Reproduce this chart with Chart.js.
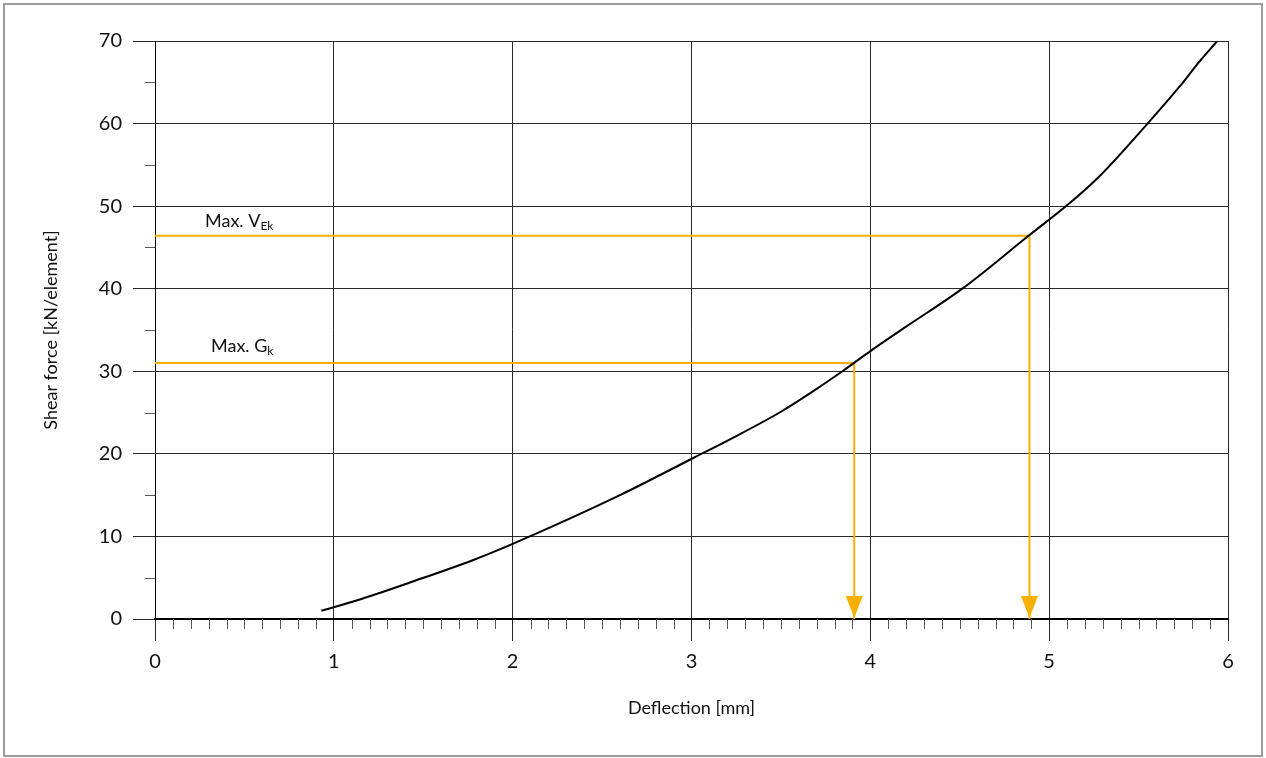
<!DOCTYPE html>
<html>
<head>
<meta charset="utf-8">
<script src="https://cdn.jsdelivr.net/npm/chart.js@4/dist/chart.umd.min.js"></script>
<style>
    html, body { margin: 0; padding: 0; background: #fff; }
    #wrap { position: relative; width: 1266px; height: 758px; }
</style>
</head>
<body>
<div id="wrap"><canvas id="shearChart"></canvas></div>
<script>
// ── Data ──────────────────────────────────────────────────────────────────────
const deflection = [0.93, 1.15, 1.45, 1.78, 2.0, 2.6, 3.01, 3.21, 3.5, 3.66, 3.85, 4.01, 4.2, 4.52, 4.89, 5.1, 5.28, 5.55, 5.73, 5.84, 5.94];
const shearForce = [1.0, 2.4, 4.6, 7.15, 9.1, 15.0, 19.5, 21.7, 25.1, 27.3, 30.1, 32.6, 35.4, 40.1, 46.5, 50.1, 53.6, 60.0, 64.5, 67.5, 70.0];

// reference levels: label, subscript, force level, deflection where it meets the curve
const refLabels = ['Max. V', 'Max. G'];
const refSubs = ['Ek', 'k'];
const refForce = [46.4, 31.0];
const refDeflection = [4.89, 3.91];

const xTicks = [0, 1, 2, 3, 4, 5, 6];
const yTicks = [0, 10, 20, 30, 40, 50, 60, 70];

const FONT = "Lato, 'Liberation Sans', sans-serif";
const ORANGE = '#F7B000';

// ── Helpers ───────────────────────────────────────────────────────────────────
const curvePoints = deflection.map((x, i) => ({ x: x, y: shearForce[i] }));

const refDatasets = refForce.map((f, i) => ({
    label: refLabels[i] + refSubs[i],
    data: [{ x: 0, y: f }, { x: refDeflection[i], y: f }, { x: refDeflection[i], y: 0 }],
    showLine: true,
    borderColor: ORANGE,
    borderWidth: 2,
    pointRadius: 0,
    tension: 0
}));

// frame, minor ticks, arrow heads and reference labels
const extrasPlugin = {
    id: 'extras',
    beforeDraw(chart) {
        const ctx = chart.ctx;
        ctx.save();
        ctx.fillStyle = '#fff';
        ctx.fillRect(0, 0, chart.width, chart.height);
        ctx.strokeStyle = '#9c9c9c';
        ctx.lineWidth = 2;
        ctx.strokeRect(4, 4, chart.width - 8, chart.height - 6);
        ctx.restore();
    },
    afterDraw(chart) {
        const ctx = chart.ctx;
        const xs = chart.scales.x, ys = chart.scales.y;
        const area = chart.chartArea;
        ctx.save();

        // minor ticks on x (every 0.1) and y (every 5)
        ctx.strokeStyle = '#555';
        ctx.lineWidth = 1;
        ctx.beginPath();
        for (let k = 1; k < 60; k++) {
            if (k % 10 === 0) continue;
            const px = Math.round(xs.getPixelForValue(k / 10)) + 0.5;
            ctx.moveTo(px, area.bottom);
            ctx.lineTo(px, area.bottom + 10);
        }
        for (let v = 5; v < 70; v += 10) {
            const py = Math.round(ys.getPixelForValue(v)) + 0.5;
            ctx.moveTo(area.left - 10, py);
            ctx.lineTo(area.left, py);
        }
        ctx.stroke();

        // arrow heads at the deflection axis
        ctx.fillStyle = ORANGE;
        refDeflection.forEach(d => {
            const px = xs.getPixelForValue(d);
            const py = ys.getPixelForValue(0);
            ctx.beginPath();
            ctx.moveTo(px - 8.5, py - 23);
            ctx.lineTo(px + 8.5, py - 23);
            ctx.lineTo(px, py - 1);
            ctx.closePath();
            ctx.fill();
        });

        // "Max. V_Ek" / "Max. G_k"
        const offsets = [[50, 9], [56, 11]];
        ctx.fillStyle = '#111';
        ctx.textBaseline = 'alphabetic';
        ctx.textAlign = 'left';
        refLabels.forEach((txt, i) => {
            const x = area.left + offsets[i][0];
            const y = ys.getPixelForValue(refForce[i]) - offsets[i][1];
            ctx.font = '18px ' + FONT;
            ctx.fillText(txt, x, y);
            const w = ctx.measureText(txt).width;
            ctx.font = '12px ' + FONT;
            ctx.fillText(refSubs[i], x + w, y + 3);
        });
        ctx.restore();
    }
};

// ── Chart ─────────────────────────────────────────────────────────────────────
new Chart(document.getElementById('shearChart'), {
    type: 'scatter',
    data: {
        datasets: [{
            label: 'Shear force',
            data: curvePoints,
            showLine: true,
            borderColor: '#000',
            borderWidth: 2,
            pointRadius: 0,
            cubicInterpolationMode: 'monotone'
        }].concat(refDatasets)
    },
    options: {
        responsive: true,
        maintainAspectRatio: false,
        animation: false,
        layout: { padding: { left: 0, right: 38, top: 41, bottom: 0 } },
        plugins: {
            legend: { display: false },
            tooltip: { enabled: false }
        },
        scales: {
            x: {
                type: 'linear',
                min: 0, max: 6,
                afterBuildTicks: s => { s.ticks = xTicks.map(v => ({ value: v })); },
                afterFit: s => { s.height = 139; },
                ticks: { color: '#111', padding: 9, font: { family: FONT, size: 20 } },
                grid: { color: '#2a2a2a', lineWidth: 1, tickLength: 22, tickColor: '#2a2a2a' },
                border: { display: true, color: '#000', width: 2 },
                title: {
                    display: true,
                    text: 'Deflection [mm]',
                    color: '#111',
                    font: { family: FONT, size: 18 },
                    padding: { top: 0, bottom: 39 }
                }
            },
            y: {
                type: 'linear',
                min: 0, max: 70,
                afterBuildTicks: s => { s.ticks = yTicks.map(v => ({ value: v })); },
                afterFit: s => { s.width = 155; },
                ticks: { color: '#111', padding: 11, font: { family: FONT, size: 20 } },
                grid: { color: '#2a2a2a', lineWidth: 1, tickLength: 22, tickColor: '#2a2a2a' },
                border: { display: true, color: '#000', width: 1 },
                title: {
                    display: true,
                    text: 'Shear force [kN/element]',
                    color: '#111',
                    font: { family: FONT, size: 18 },
                    padding: { top: 40, bottom: 0 }
                }
            }
        }
    },
    plugins: [extrasPlugin]
});
</script>
</body>
</html>
